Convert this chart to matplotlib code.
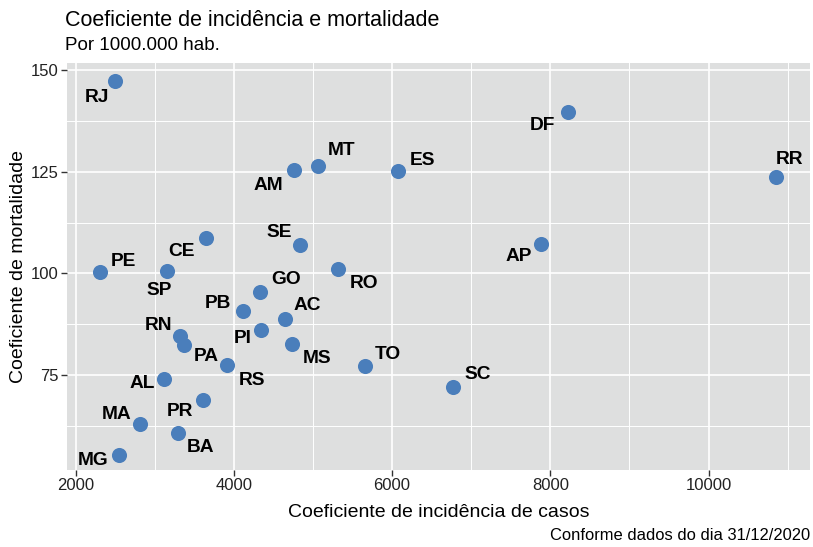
import matplotlib
matplotlib.use('Agg')
from matplotlib import pyplot as plt
from matplotlib.ticker import MultipleLocator
import numpy as np

plt.rcParams['font.family'] = ['Liberation Sans', 'DejaVu Sans']

# dados por UF
uf = ['RJ', 'DF', 'RR', 'AP', 'SC', 'MT', 'AM', 'ES', 'SE', 'RO', 'GO', 'AC', 'MS',
      'TO', 'PI', 'PB', 'PE', 'CE', 'SP', 'RN', 'PA', 'RS', 'AL', 'PR', 'MA', 'BA', 'MG']
incidencia = [2497, 8220, 10850, 7886, 6766, 5067, 4760, 6079, 4840, 5312, 4326, 4642, 4735,
              5657, 4339, 4111, 2307, 3647, 3150, 3319, 3369, 3917, 3120, 3613, 2813, 3293, 2547]
mortalidade = [147.3, 139.7, 123.6, 107.2, 72.0, 126.5, 125.4, 125.1, 107.1, 101.1, 95.5, 88.7, 82.6,
               77.1, 86.1, 90.7, 100.3, 108.7, 100.6, 84.7, 82.4, 77.5, 74.0, 68.8, 63.0, 60.6, 55.3]

# deslocamento dos rotulos (pixels), tipo ggrepel
desloc = {'RJ': (-18, -16), 'DF': (-25, -13), 'RR': (14, 18), 'AP': (-23, -12),
          'SC': (25, 13), 'MT': (23, 15), 'AM': (-26, -15), 'ES': (24, 11),
          'SE': (-21, 12), 'RO': (26, -15), 'GO': (26, 12), 'AC': (23, 14),
          'MS': (25, -14), 'TO': (23, 12), 'PI': (-18, -9), 'PB': (-25, 8),
          'PE': (23, 11), 'CE': (-24, -13), 'SP': (-7, -20), 'RN': (-22, 10),
          'PA': (22, -12), 'RS': (25, -16), 'AL': (-22, -5), 'PR': (-23, -11),
          'MA': (-23, 9), 'BA': (23, -14), 'MG': (-26, -6)}

fig = plt.figure(figsize=(8.13, 5.47), dpi=100)
ax = fig.add_axes([67.3/813, 1-470/547, (810-67.3)/813, (470-63.3)/547])
ax.set_facecolor('#DEDFDF')

ax.scatter(incidencia, mortalidade, s=118, color='#4A7EBB', zorder=3, linewidths=0)
for i, nome in enumerate(uf):
    dx, dy = desloc[nome]
    ax.annotate(nome, (incidencia[i], mortalidade[i]), xytext=(dx, dy),
                textcoords='offset pixels', ha='center', va='center',
                fontsize=13.8, fontweight='bold', color='black', zorder=4)

ax.set_xlim(1894, 11283)
ax.set_ylim(51.6, 151.7)
ax.xaxis.set_major_locator(MultipleLocator(2000))
ax.xaxis.set_minor_locator(MultipleLocator(1000))
ax.yaxis.set_major_locator(MultipleLocator(25))
ax.yaxis.set_minor_locator(MultipleLocator(12.5))
ax.grid(which='major', color='white', lw=1.2)
ax.grid(which='minor', color='white', lw=0.7)
ax.set_axisbelow(True)
for s in ax.spines.values():
    s.set_visible(False)
ax.tick_params(which='major', length=4, width=1, color='#333333', labelsize=12,
               labelcolor='#222222', pad=2)
ax.tick_params(which='minor', length=0)

ax.set_xlabel('Coeficiente de incidência de casos', fontsize=14, labelpad=8)
ax.set_ylabel('Coeficiente de mortalidade', fontsize=14, labelpad=3)

fig.text(65/813, 1-20.5/547, 'Coeficiente de incidência e mortalidade', fontsize=15.5,
         ha='left', va='center')
fig.text(65/813, 1-46/547, 'Por 1000.000 hab.', fontsize=13.5, ha='left', va='center')
fig.text(810/813, 1-540/547, 'Conforme dados do dia 31/12/2020', fontsize=11.9,
         ha='right', va='baseline')

plt.savefig('out.png', dpi=100)
